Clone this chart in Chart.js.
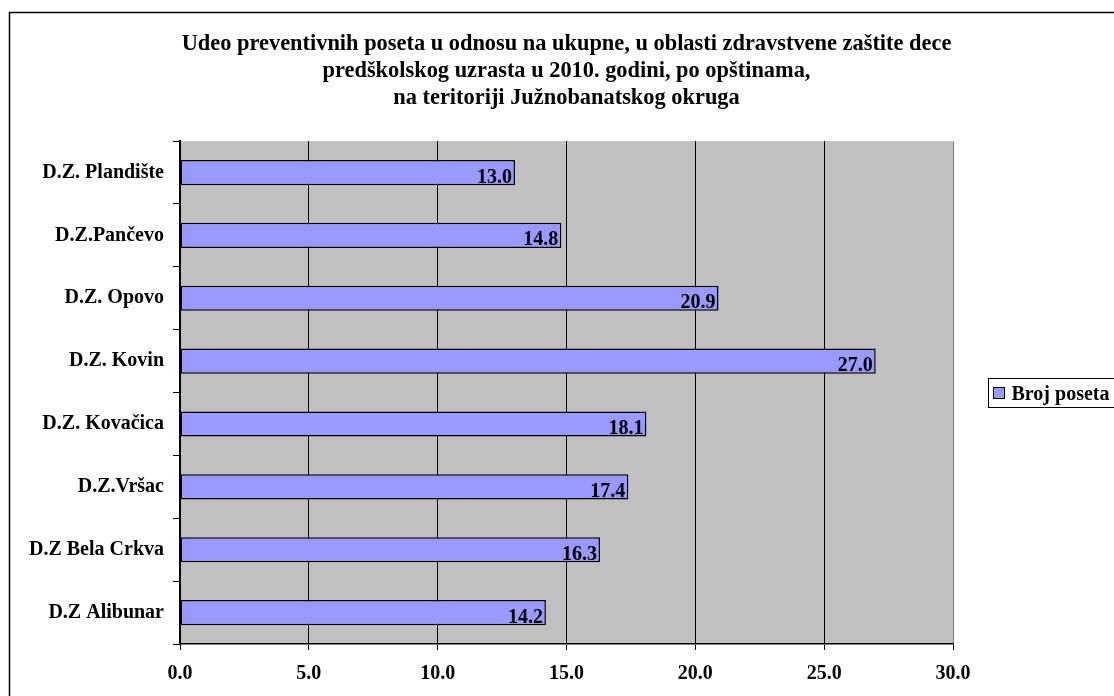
<!DOCTYPE html>
<html>
<head>
<meta charset="utf-8">
<script src="https://cdn.jsdelivr.net/npm/chart.js@4/dist/chart.umd.min.js"></script>
<style>
  body { margin: 0; background: #fff; }
  #wrap { width: 1114px; height: 696px; }
</style>
</head>
<body>
<div id="wrap"><canvas id="myChart" width="1114" height="696"></canvas></div>
<script>
var opstine = ['D.Z. Plandište', 'D.Z.Pančevo', 'D.Z. Opovo', 'D.Z. Kovin', 'D.Z. Kovačica', 'D.Z.Vršac', 'D.Z Bela Crkva', 'D.Z Alibunar'];
var brojPoseta = [13.0, 14.8, 20.9, 27.0, 18.1, 17.4, 16.3, 14.2];
var naslov = [
  'Udeo preventivnih poseta u odnosu na ukupne, u oblasti zdravstvene zaštite dece',
  'predškolskog uzrasta u 2010. godini, po opštinama,',
  'na teritoriji Južnobanatskog okruga'
];
var serif = '"Liberation Serif", "Times New Roman", serif';

// gray plot background + outer frame
var plotBg = {
  id: 'plotBg',
  beforeDraw: function (chart) {
    var c = chart.ctx, a = chart.chartArea;
    c.save();
    c.fillStyle = '#fff';
    c.fillRect(0, 0, chart.width, chart.height);
    c.fillStyle = '#C0C0C0';
    c.fillRect(a.left, a.top, a.right - a.left, a.bottom - a.top);
    c.restore();
  },
  afterDraw: function (chart) {
    var c = chart.ctx;
    c.save();
    c.strokeStyle = '#000';
    c.lineWidth = 1.5;
    c.strokeRect(9.5, 12.5, 1200, 800);
    c.restore();
  }
};

// value labels at the inner end of each bar
var barLabels = {
  id: 'barLabels',
  afterDatasetsDraw: function (chart) {
    var c = chart.ctx;
    c.save();
    c.font = 'bold 20px ' + serif;
    c.fillStyle = '#000';
    c.textAlign = 'right';
    c.textBaseline = 'alphabetic';
    chart.getDatasetMeta(0).data.forEach(function (bar, i) {
      c.fillText(chart.data.datasets[0].data[i].toFixed(1), bar.x - 3, bar.y + 10);
    });
    c.restore();
  }
};

// boxed legend on the right
var boxLegend = {
  id: 'boxLegend',
  afterDraw: function (chart) {
    var c = chart.ctx, ds = chart.data.datasets[0];
    var x = 988.5, y = 378.5;
    c.save();
    c.fillStyle = '#fff';
    c.fillRect(x, y, 200, 29);
    c.strokeStyle = '#000';
    c.lineWidth = 1;
    c.strokeRect(x, y, 200, 29);
    c.fillStyle = ds.backgroundColor;
    c.fillRect(x + 5, y + 9, 11, 11);
    c.strokeRect(x + 5, y + 9, 11, 11);
    c.font = 'bold 20px ' + serif;
    c.fillStyle = '#000';
    c.textBaseline = 'alphabetic';
    c.fillText(ds.label, x + 23, y + 21);
    c.restore();
  }
};

var ctx = document.getElementById('myChart').getContext('2d');
var myChart = new Chart(ctx, {
  type: 'bar',
  data: {
    labels: opstine,
    datasets: [{
      label: 'Broj poseta',
      data: brojPoseta,
      backgroundColor: '#9999FF',
      borderColor: '#000',
      borderWidth: 1.5,
      borderSkipped: false,
      barPercentage: 0.4,
      categoryPercentage: 1
    }]
  },
  options: {
    indexAxis: 'y',
    responsive: false,
    animation: false,
    layout: { padding: { left: 10, right: 161, top: 20, bottom: 0 } },
    plugins: {
      legend: { display: false },
      tooltip: { enabled: false },
      title: {
        display: true,
        fullSize: false,
        text: naslov,
        color: '#000',
        font: { family: serif, size: 22.4, weight: 'bold', lineHeight: 1.2 },
        padding: { top: 11, bottom: 29.5 }
      }
    },
    scales: {
      x: {
        min: 0,
        max: 30,
        afterFit: function (s) { s.height = 52; },
        ticks: {
          stepSize: 5,
          color: '#000',
          padding: 12,
          font: { family: serif, size: 20, weight: 'bold' },
          callback: function (v) { return v.toFixed(1); }
        },
        grid: {
          color: function (c) { return c.tick && c.tick.value === 30 ? '#808080' : '#000'; },
          tickColor: '#000',
          tickLength: 6,
          lineWidth: 1
        },
        border: { color: '#000', width: 1.5 }
      },
      y: {
        afterFit: function (s) { s.width = 170; },
        ticks: {
          color: '#000',
          padding: 9,
          font: { family: serif, size: 20, weight: 'bold' }
        },
        grid: {
          drawOnChartArea: false,
          offset: true,
          color: '#000',
          tickLength: 7
        },
        border: { color: '#000', width: 2 }
      }
    }
  },
  plugins: [plotBg, barLabels, boxLegend]
});
</script>
</body>
</html>
